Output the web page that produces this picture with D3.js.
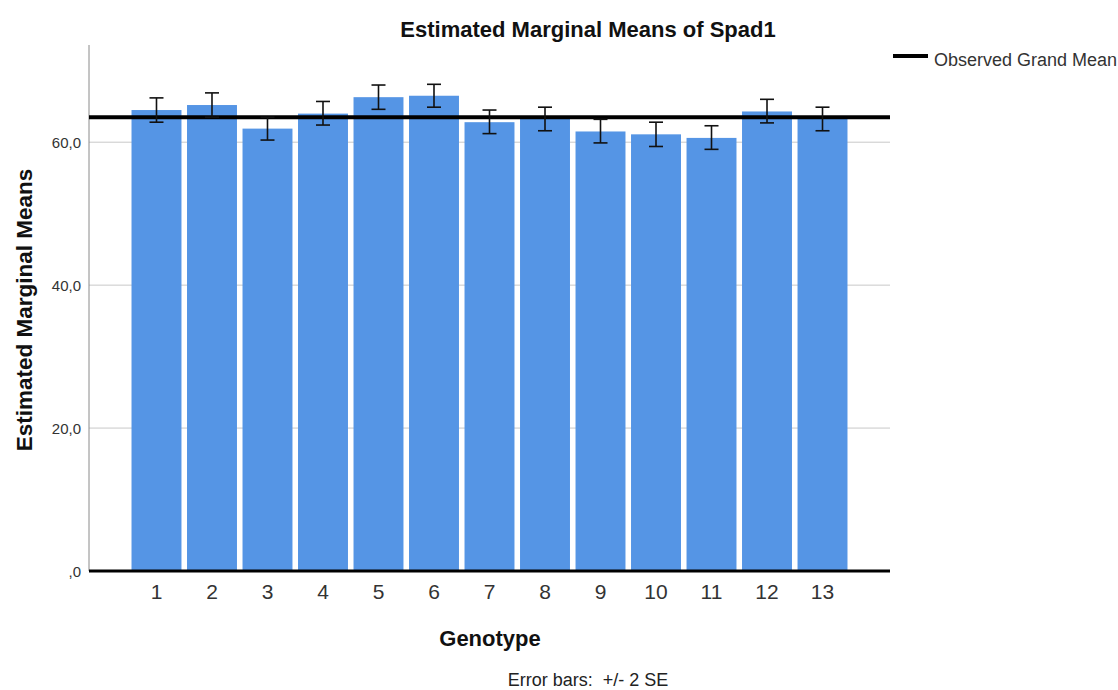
<!DOCTYPE html>
<html><head><meta charset="utf-8">
<script src="https://cdn.jsdelivr.net/npm/d3@7"></script>
<style>body{margin:0;background:#fff;} text{font-family:"Liberation Sans",Arial,sans-serif;}</style>
</head><body>
<svg id="c" width="1118" height="690"></svg>
<script>
const genotypes = ["1","2","3","4","5","6","7","8","9","10","11","12","13"];
const means = [64.5, 65.2, 61.9, 64.0, 66.3, 66.5, 62.8, 63.3, 61.5, 61.1, 60.6, 64.3, 63.3];
const errLow = [62.8, 63.5, 60.3, 62.4, 64.6, 64.9, 61.2, 61.6, 59.9, 59.4, 59.0, 62.7, 61.6];
const errHigh = [66.2, 66.9, 63.5, 65.7, 68.0, 68.1, 64.5, 64.9, 63.2, 62.8, 62.3, 66.0, 64.9];
const grandMean = 63.5;
const yTicks = [0, 20, 40, 60];
const yTickLabels = [",0", "20,0", "40,0", "60,0"];

const svg = d3.select("#c");
const L = 89, R = 890, B = 571, T = 45;
const x = d3.scaleBand().domain(genotypes).range([L, R]).paddingInner(0.1).paddingOuter(0.766);
const y = d3.scaleLinear().domain([0, 73.6]).range([B, T]);

// gridlines
svg.append("g").selectAll("line").data(yTicks.filter(d => d > 0)).join("line")
  .attr("x1", L).attr("x2", R).attr("y1", d => y(d)).attr("y2", d => y(d))
  .attr("stroke", "#c8c8c8").attr("stroke-width", 1);

// y axis line
svg.append("line").attr("x1", L).attr("x2", L).attr("y1", T).attr("y2", B)
  .attr("stroke", "#8a8a8a").attr("stroke-width", 1);

// bars
svg.append("g").selectAll("rect").data(genotypes).join("rect")
  .attr("x", d => x(d)).attr("width", x.bandwidth())
  .attr("y", (d, i) => y(means[i])).attr("height", (d, i) => B - y(means[i]))
  .attr("fill", "#5595e5");

// grand mean line
svg.append("line").attr("x1", L).attr("x2", R).attr("y1", y(grandMean)).attr("y2", y(grandMean))
  .attr("stroke", "#000").attr("stroke-width", 4);

// error bars
const eb = svg.append("g").attr("stroke", "#111").attr("stroke-width", 1.6);
genotypes.forEach((g, i) => {
  const cx = x(g) + x.bandwidth() / 2;
  eb.append("line").attr("x1", cx).attr("x2", cx).attr("y1", y(errLow[i])).attr("y2", y(errHigh[i]));
  eb.append("line").attr("x1", cx - 7).attr("x2", cx + 7).attr("y1", y(errLow[i])).attr("y2", y(errLow[i]));
  eb.append("line").attr("x1", cx - 7).attr("x2", cx + 7).attr("y1", y(errHigh[i])).attr("y2", y(errHigh[i]));
});

// baseline
svg.append("line").attr("x1", L).attr("x2", R).attr("y1", y(0)).attr("y2", y(0))
  .attr("stroke", "#000").attr("stroke-width", 3);

// y tick labels
svg.append("g").selectAll("text").data(yTicks).join("text")
  .attr("x", 81).attr("y", d => y(d) + 6).attr("text-anchor", "end")
  .attr("font-size", 15).attr("fill", "#333").text((d, i) => yTickLabels[i]);

// x tick labels
svg.append("g").selectAll("text").data(genotypes).join("text")
  .attr("x", d => x(d) + x.bandwidth() / 2).attr("y", 599).attr("text-anchor", "middle")
  .attr("font-size", 21).attr("fill", "#333").text(d => d);

// titles
svg.append("text").attr("x", 588).attr("y", 37).attr("text-anchor", "middle")
  .attr("font-size", 22).attr("font-weight", "bold").attr("fill", "#111").text("Estimated Marginal Means of Spad1");
svg.append("text").attr("transform", "translate(32,310) rotate(-90)").attr("text-anchor", "middle")
  .attr("font-size", 22.5).attr("font-weight", "bold").attr("fill", "#111").text("Estimated Marginal Means");
svg.append("text").attr("x", 490).attr("y", 646).attr("text-anchor", "middle")
  .attr("font-size", 22).attr("font-weight", "bold").attr("fill", "#111").text("Genotype");
svg.append("text").attr("x", 588).attr("y", 686).attr("text-anchor", "middle")
  .attr("font-size", 18).attr("fill", "#222").attr("xml:space", "preserve").style("white-space", "pre")
  .text("Error bars:  +/- 2 SE");

// legend
svg.append("line").attr("x1", 893).attr("x2", 928).attr("y1", 56).attr("y2", 56)
  .attr("stroke", "#000").attr("stroke-width", 4);
svg.append("text").attr("x", 934).attr("y", 66).attr("font-size", 18).attr("fill", "#333").text("Observed Grand Mean");
</script>
</body></html>
